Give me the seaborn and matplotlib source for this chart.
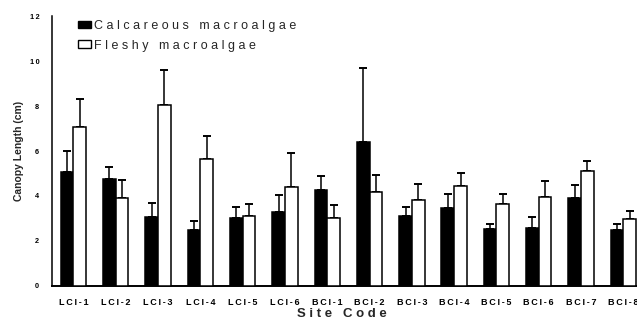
import matplotlib
matplotlib.use("Agg")
import matplotlib.pyplot as plt
from matplotlib.patches import Patch
import seaborn as sns
import pandas as pd
import numpy as np

# Mean canopy length per site and the upper error (cm)
sites = ["LCI-1", "LCI-2", "LCI-3", "LCI-4", "LCI-5", "LCI-6",
         "BCI-1", "BCI-2", "BCI-3", "BCI-4", "BCI-5", "BCI-6", "BCI-7", "BCI-8"]
calcareous = [5.05, 4.76, 3.07, 2.48, 3.01, 3.31, 4.27, 6.38, 3.09, 3.48, 2.53, 2.56, 3.91, 2.48]
calcareous_err = [0.96, 0.52, 0.61, 0.40, 0.52, 0.72, 0.62, 3.32, 0.42, 0.59, 0.24, 0.52, 0.56, 0.28]
fleshy = [7.08, 3.93, 8.03, 5.66, 3.10, 4.40, 3.01, 4.18, 3.81, 4.44, 3.64, 3.96, 5.11, 2.96]
fleshy_err = [1.23, 0.79, 1.56, 1.02, 0.56, 1.50, 0.59, 0.77, 0.74, 0.58, 0.46, 0.69, 0.46, 0.39]
groups = ["Calcareous macroalgae", "Fleshy macroalgae"]
y_ticks = [0, 2, 4, 6, 8, 10, 12]

sns.set_style("white")
plt.rcParams["font.family"] = ["Liberation Sans", "DejaVu Sans"]


def spaced(text, sep=" "):
    """Widen the letter spacing of a label."""
    return sep.join(list(text))


df = pd.DataFrame({
    "site": sites * 2,
    "group": [groups[0]] * len(sites) + [groups[1]] * len(sites),
    "length": calcareous + fleshy,
})
errors = {groups[0]: calcareous_err, groups[1]: fleshy_err}

fig = plt.figure(figsize=(6.37, 3.22), dpi=100)
ax = fig.add_axes([0.0821, 0.112, 0.9297, 0.838])

sns.barplot(data=df, x="site", y="length", hue="group", order=sites,
            hue_order=groups, palette={groups[0]: "black", groups[1]: "white"},
            edgecolor="black", linewidth=1.1, width=0.6, errorbar=None,
            legend=False, ax=ax, zorder=3)

# One-sided (upper) error bars placed on each bar's centre
bars = [p for p in ax.patches if p.get_height() > 0]
n = len(sites)
for gi, g in enumerate(groups):
    gbars = sorted(bars[gi * n:(gi + 1) * n], key=lambda p: p.get_x())
    xs = [p.get_x() + p.get_width() / 2 for p in gbars]
    vals = df[df["group"] == g].set_index("site").loc[sites, "length"].values
    err = np.array(errors[g])
    ax.errorbar(xs, vals, yerr=[np.zeros(n), err], fmt="none", ecolor="black",
                elinewidth=1.1, capsize=3.2, capthick=1.4, zorder=2)

ax.set_xlim(-0.5, n - 0.5)
ax.set_ylim(0, 12)
ax.set_yticks(y_ticks)
ax.set_yticklabels([spaced(str(t), "\u2009") for t in y_ticks],
                   fontsize=5.2, fontweight="bold")
ax.set_xticks(range(n))
ax.set_xticklabels([spaced(s, "\u2009") for s in sites], fontsize=6.5, fontweight="bold")
ax.tick_params(axis="y", direction="in", length=2.3, width=1.0, pad=9.4, colors="black")
ax.tick_params(axis="x", length=0, pad=8.6, colors="black")

for side in ("top", "right"):
    ax.spines[side].set_visible(False)
ax.spines["left"].set_linewidth(1.1)
ax.spines["bottom"].set_linewidth(1.4)
for side in ("left", "bottom"):
    ax.spines[side].set_color("black")

ax.set_xlabel(spaced("Site Code"), fontsize=9.5, fontweight="bold")
ax.xaxis.set_label_coords(0.489, -0.082)
ax.set_ylabel("Canopy Length (cm)", fontsize=7.5, fontweight="bold")
ax.yaxis.set_label_coords(-0.047, 0.5)

handles = [Patch(facecolor="black", edgecolor="black", linewidth=1.0),
           Patch(facecolor="white", edgecolor="black", linewidth=1.0)]
fig.legend(handles, [spaced(g) for g in groups], loc="upper left",
           bbox_to_anchor=(78 / 637, 1 - 20 / 322), frameon=False,
           fontsize=9, handlelength=1.0, handleheight=0.55, handletextpad=0.3,
           labelspacing=0.6, borderpad=0, borderaxespad=0)

fig.savefig("out.png", dpi=100)
